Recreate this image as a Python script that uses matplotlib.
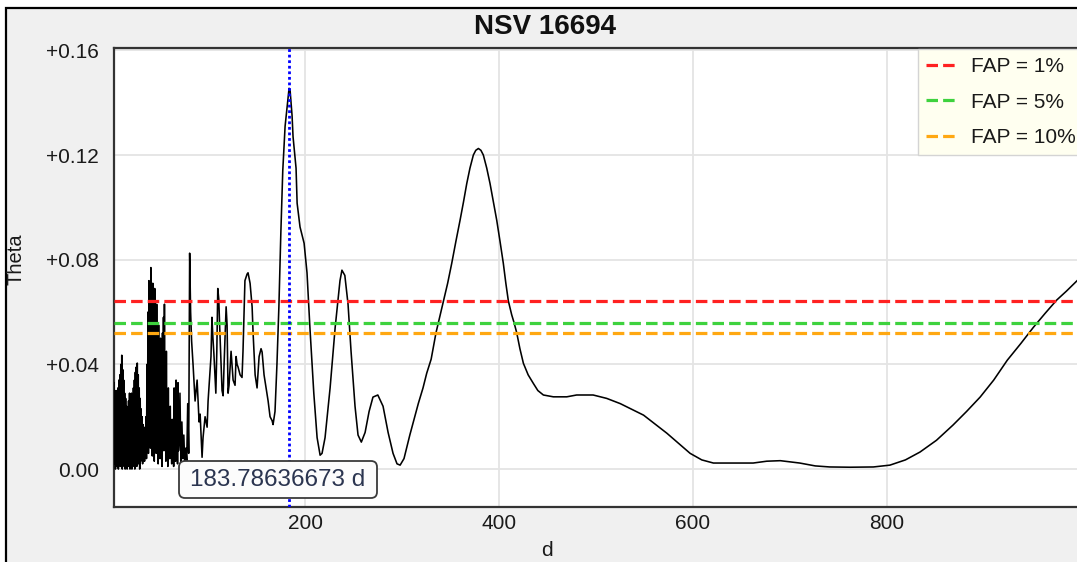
import matplotlib
matplotlib.use('Agg')
import matplotlib.pyplot as plt
from matplotlib.patches import Rectangle, FancyBboxPatch
from matplotlib.transforms import IdentityTransform
import numpy as np

plt.rcParams['font.family'] = ['Liberation Sans', 'DejaVu Sans']

# ---------------- data ----------------
title = "NSV 16694"
x_label = "d"
y_label = "Theta"

# short-period, densely oscillating part of the periodogram (period in days)
period_noise_a = [3.0, 3.5, 4.0, 4.5, 5.0, 5.5, 6.0, 6.5, 7.0, 7.5, 8.0, 8.5, 9.0, 9.5,
                  10.0, 10.5, 11.0, 11.5, 12.0, 12.5, 13.0, 13.5, 14.0, 14.5, 15.0, 15.5,
                  16.0, 16.5, 17.0, 17.5, 18.0, 18.5, 19.0, 19.5, 20.0, 20.5, 21.0, 21.5,
                  22.0, 22.5, 23.0, 23.5, 24.0, 24.5, 25.0, 25.5, 26.0, 26.5, 27.0, 27.5,
                  28.0, 28.5, 29.0, 29.5, 30.0, 30.5, 31.0, 31.5, 32.0, 32.5, 33.0, 33.5,
                  34.0, 34.5, 35.0, 35.5, 36.0, 36.5, 37.0, 37.5, 38.0, 38.5, 39.0, 39.5]
theta_noise_a = [0.033, 0.002, 0.030, 0.000, 0.026, 0.003, 0.030, 0.001, 0.031, 0.000,
                 0.034, 0.004, 0.036, 0.001, 0.040, 0.002, 0.0435, 0.000, 0.038, 0.003,
                 0.034, 0.001, 0.029, 0.000, 0.027, 0.002, 0.024, 0.000, 0.022, 0.001,
                 0.026, 0.003, 0.029, 0.000, 0.027, 0.002, 0.029, 0.000, 0.028, 0.001,
                 0.031, 0.003, 0.034, 0.000, 0.037, 0.002, 0.039, 0.001, 0.0405, 0.004,
                 0.036, 0.002, 0.031, 0.000, 0.027, 0.003, 0.023, 0.005, 0.020, 0.002,
                 0.017, 0.006, 0.016, 0.003, 0.013, 0.008, 0.020, 0.004, 0.040, 0.009,
                 0.060, 0.006, 0.072, 0.012]

period_noise_b = [40.0, 40.5, 41.0, 41.5, 42.0, 42.5, 43.0, 43.5, 44.0, 44.5, 45.0, 45.5,
                  46.0, 46.5, 47.0, 47.5, 48.0, 48.5, 49.0, 49.5, 50.0, 50.5, 51.0, 51.5,
                  52.0, 52.5, 53.0, 53.5, 54.0, 54.5, 55.0, 55.5, 56.0, 56.5, 57.0, 57.5,
                  58.0, 58.5, 59.0, 59.5, 60.0, 60.5, 61.0, 61.5, 62.0, 62.5, 63.0, 63.5,
                  64.0, 64.5, 65.0, 65.5, 66.0, 66.5, 67.0, 67.5, 68.0, 68.5, 69.0, 69.5]
theta_noise_b = [0.030, 0.008, 0.077, 0.012, 0.045, 0.005, 0.071, 0.015, 0.035, 0.003,
                 0.069, 0.010, 0.040, 0.006, 0.063, 0.012, 0.030, 0.002, 0.055, 0.009,
                 0.028, 0.004, 0.050, 0.011, 0.032, 0.001, 0.052, 0.013, 0.058, 0.007,
                 0.063, 0.014, 0.030, 0.003, 0.045, 0.010, 0.020, 0.001, 0.031, 0.008,
                 0.018, 0.004, 0.024, 0.009, 0.012, 0.002, 0.019, 0.006, 0.015, 0.001,
                 0.031, 0.008, 0.020, 0.003, 0.034, 0.010, 0.022, 0.002, 0.033, 0.007]

period_noise_c = [70, 71, 72, 73, 74, 75, 76, 77, 78, 79, 80, 81, 82, 83]
theta_noise_c = [0.010, 0.029, 0.002, 0.018, 0.004, 0.013, 0.001, 0.008, 0.003, 0.025,
                 0.006, 0.0825, 0.060, 0.049]

# longer-period, smoother part
period_smooth = [84.5, 86.6, 88.7, 90.7, 91.8, 93.8, 94.8, 96.9, 99.0, 100.0,
                 103.0, 104.0, 105.0, 106.0, 108.0, 109.0, 110.0, 111.0, 112.0, 114.4,
                 115.5, 116.5, 118.6, 119.6, 120.6, 121.6, 123.7, 125.8, 127.8, 128.9,
                 129.9, 130.9, 133.0, 135.0, 136.0, 138.0, 140.2, 141.2, 143.3, 145.4,
                 146.4, 148.5, 150.5, 152.6, 154.6, 155.7, 157.7, 159.8, 161.9, 163.9,
                 166.0, 167.0, 169.0, 171.0, 173.0, 175.0, 177.0, 179.4, 181.4, 183.5,
                 184.5, 186.6, 187.6, 190.7, 191.8, 194.8, 199.0, 202.0, 205.0, 209.0,
                 212.4, 215.5, 217.5, 220.6, 225.8, 231.0, 236.0, 238.0, 241.0, 244.3,
                 247.4, 251.5, 254.6, 258.0, 261.9, 266.0, 270.0, 275.0, 280.4, 285.6,
                 290.7, 294.8, 298.0, 302.0, 308.0, 316.8, 321.6, 325.4, 330.0, 335.0,
                 337.4, 342.6, 347.0, 351.2, 355.5, 359.8, 363.3, 366.7, 370.0, 373.5,
                 376.0, 378.7, 381.3, 383.8, 387.3, 390.7, 394.2, 397.6, 401.0, 404.4,
                 407.0, 409.6, 413.0, 415.5, 418.2, 421.5, 425.1, 430.0, 435.4, 440.0,
                 445.7, 456.0, 469.8, 480.0, 497.0, 511.0, 525.0, 549.0, 573.0,
                 586.0, 597.0, 609.0, 621.0, 641.0, 662.0, 676.0, 690.0, 710.0, 726.0,
                 741.0, 762.0, 786.0, 803.0, 819.0, 834.0, 851.0, 868.0, 882.0, 896.0,
                 910.0, 924.0, 938.0, 951.0, 963.0, 975.0, 985.0, 996.0, 1010.0]
theta_smooth = [0.040, 0.026, 0.034, 0.018, 0.021, 0.0045, 0.012, 0.020, 0.016, 0.026,
                0.043, 0.058, 0.050, 0.044, 0.029, 0.045, 0.069, 0.065, 0.054, 0.030,
                0.028, 0.040, 0.062, 0.055, 0.029, 0.032, 0.045, 0.034, 0.032, 0.043,
                0.040, 0.039, 0.036, 0.035, 0.045, 0.072, 0.0745, 0.075, 0.071, 0.062,
                0.052, 0.036, 0.031, 0.043, 0.046, 0.0447, 0.036, 0.031, 0.026, 0.020,
                0.0185, 0.017, 0.022, 0.040, 0.062, 0.090, 0.114, 0.131, 0.138, 0.1455,
                0.145, 0.135, 0.127, 0.115, 0.1016, 0.0925, 0.0863, 0.075, 0.054, 0.029,
                0.012, 0.0053, 0.006, 0.012, 0.031, 0.054, 0.072, 0.076, 0.074, 0.063,
                0.045, 0.024, 0.013, 0.0103, 0.014, 0.022, 0.0275, 0.0283, 0.024, 0.014,
                0.006, 0.002, 0.0015, 0.004, 0.013, 0.0251, 0.031, 0.0366, 0.042, 0.0521,
                0.0559, 0.0642, 0.071, 0.0786, 0.087, 0.0951, 0.102, 0.1091, 0.115, 0.120,
                0.1218, 0.1225, 0.1218, 0.120, 0.115, 0.1091, 0.102, 0.0951, 0.087, 0.0786,
                0.071, 0.0642, 0.059, 0.0559, 0.0521, 0.046, 0.0404, 0.036, 0.0327, 0.030,
                0.0283, 0.0276, 0.0276, 0.0283, 0.0283, 0.027, 0.025, 0.0206, 0.0137,
                0.0095, 0.006, 0.0035, 0.0023, 0.0023, 0.0023, 0.003, 0.0032, 0.0023, 0.0012,
                0.0008, 0.0007, 0.0008, 0.0015, 0.0035, 0.0065, 0.011, 0.0168, 0.022, 0.0275,
                0.034, 0.0416, 0.048, 0.0542, 0.0595, 0.0646, 0.068, 0.072, 0.077]

fap_labels = ["FAP = 1%", "FAP = 5%", "FAP = 10%"]
fap_levels = [0.0642, 0.0559, 0.0521]
fap_colors = ["#ff2121", "#3ed23e", "#ffa812"]

best_period = 183.78636673
best_label = "183.78636673 d"

y_ticks = [0.00, 0.04, 0.08, 0.12, 0.16]
y_tick_labels = ["0.00", "+0.04", "+0.08", "+0.12", "+0.16"]
x_ticks = [200, 400, 600, 800]
x_tick_labels = ["200", "400", "600", "800"]

# ---------------- figure ----------------
W, H = 1077, 562
fig = plt.figure(figsize=(W / 100, H / 100), dpi=100, facecolor='white')


def fx(px):
    return px / W


def fy(py):
    return 1 - py / H


bg = Rectangle((fx(5.5), -0.5), 2.0, fy(7.5) + 0.5,
               transform=fig.transFigure, facecolor='#f0f0f0',
               edgecolor='black', lw=1.6, zorder=-10)
fig.patches.append(bg)

ax = fig.add_axes([fx(114), fy(507), fx(1081) - fx(114), fy(48) - fy(507)])
ax.set_zorder(1)
ax.set_facecolor('white')
ax.set_xlim(3, 1000)
ax.set_ylim(-0.0145, 0.1609)

period = np.array(period_noise_a + period_noise_b + period_noise_c + period_smooth)
theta = np.array(theta_noise_a + theta_noise_b + theta_noise_c + theta_smooth)

ax.grid(True, color='#e4e4e4', lw=1.3, zorder=0)
ax.set_axisbelow(True)

ax.plot(period, theta, color='black', lw=1.15, zorder=3)

handles = []
for lab, lev, col in zip(fap_labels, fap_levels, fap_colors):
    ln = ax.axhline(lev, color=col, lw=2.3, dashes=(3.6, 1.6), zorder=4, label=lab)
    handles.append(ln)

ax.axvline(best_period, color='#0000ff', lw=2.0, dashes=(1.0, 1.0), zorder=5)

ax.set_xticks(x_ticks)
ax.set_xticklabels(x_tick_labels)
ax.set_yticks(y_ticks)
ax.set_yticklabels(y_tick_labels)
ax.tick_params(axis='both', length=0, labelsize=15, colors='#1a1a1a')
ax.tick_params(axis='y', pad=11)
ax.tick_params(axis='x', pad=5)

for s in ax.spines.values():
    s.set_color('#333333')
    s.set_linewidth(1.6)

leg = ax.legend(handles=handles, loc='upper left',
                bbox_to_anchor=(fx(918), fy(49)), bbox_transform=fig.transFigure,
                frameon=True, fancybox=False, facecolor='#fffff0', edgecolor='#d4d4d4',
                framealpha=1, fontsize=15, handlelength=1.45, handletextpad=0.7,
                borderpad=0.38, labelspacing=0.8, borderaxespad=0)
leg.get_frame().set_linewidth(1.0)
for t in leg.get_texts():
    t.set_color('#1a1a1a')

fig.text(fx(545), fy(27), title, fontsize=20, fontweight='bold',
         ha='center', va='center', color='#111111')
fig.text(fx(547), fy(551), x_label, fontsize=15, ha='center', va='center',
         color='#1a1a1a')
fig.text(fx(16), fy(259), y_label, fontsize=14.5, rotation=90, ha='center',
         va='center', color='#1a1a1a')

# read-out box for the selected period
box = FancyBboxPatch((179, H - 498), 198, 37,
                     boxstyle='round,pad=0,rounding_size=6',
                     transform=IdentityTransform(), facecolor='#fcfcfc',
                     edgecolor='#3a3a3a', lw=1.3, zorder=20)
fig.patches.append(box)
fig.text(fx(278), fy(479.5), best_label, fontsize=17.5, ha='center', va='center',
         color='#2b3550', zorder=21)

fig.savefig('out.png', dpi=100, facecolor=fig.get_facecolor())
